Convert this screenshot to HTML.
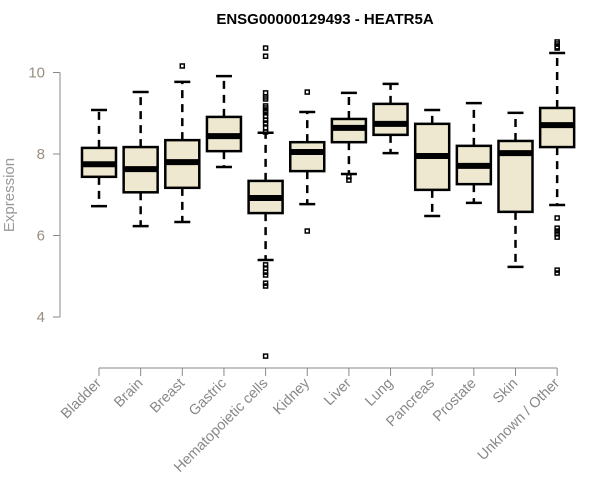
<!DOCTYPE html>
<html><head><meta charset="utf-8"><style>
html,body{margin:0;padding:0;background:#fff;}
svg{display:block;font-family:"Liberation Sans",Arial,sans-serif;}
</style></head><body>
<svg id="chart" width="600" height="500" viewBox="0 0 600 500" xmlns="http://www.w3.org/2000/svg">
<text x="325" y="24" text-anchor="middle" font-weight="bold" font-size="15" fill="#000">ENSG00000129493 - HEATR5A</text>
<text transform="translate(14,195) rotate(-90)" text-anchor="middle" font-size="15" fill="#999">Expression</text>
<g id="yaxis"></g>
<g id="xaxis"></g>
<g id="boxes"></g>
</svg>
<script>
const categories = ["Bladder","Brain","Breast","Gastric","Hematopoietic cells","Kidney","Liver","Lung","Pancreas","Prostate","Skin","Unknown / Other"];
const whiskerLow = [6.72,6.23,6.33,7.68,5.40,6.77,7.51,8.02,6.48,6.80,5.23,6.75];
const q1 = [7.44,7.06,7.17,8.07,6.55,7.58,8.29,8.47,7.12,7.26,6.58,8.17];
const medians = [7.75,7.63,7.80,8.44,6.92,8.05,8.64,8.74,7.95,7.71,8.02,8.71];
const q3 = [8.15,8.17,8.34,8.91,7.34,8.29,8.86,9.23,8.74,8.20,8.32,9.13];
const whiskerHigh = [9.08,9.52,9.77,9.91,8.52,9.03,9.50,9.72,9.08,9.25,9.01,10.48];
const outliers = [[],[],[10.16],[],[10.60,10.40,9.50,9.40,9.35,9.18,9.13,9.06,9.01,8.93,8.83,8.76,8.64,8.54,5.28,5.20,5.10,5.03,4.83,4.76,3.04],[9.52,6.11],[7.44,7.36],[],[],[],[],[10.75,10.70,10.63,10.60,6.43,6.18,6.11,6.04,5.96,5.15,5.08]];
const yTicks = [4,6,8,10];

const NS="http://www.w3.org/2000/svg";
function y(v){return 154-(v-8)*40.75;}
function x(i){return 99+i*41.65;}
function mk(tag,attrs,parent){const e=document.createElementNS(NS,tag);for(const k in attrs)e.setAttribute(k,attrs[k]);parent.appendChild(e);return e;}
const ya=document.getElementById('yaxis'),xa=document.getElementById('xaxis'),bx=document.getElementById('boxes');
const yl=mk('line',{x1:60,x2:60,y1:y(10),y2:y(4),stroke:'#888','stroke-width':1},ya);


yTicks.forEach(t=>{
  const tk=mk('line',{x1:53,x2:60,y1:y(t),y2:y(t),stroke:'#888'},ya);
  
  
  const tx=mk('text',{x:45,y:y(t)+5,'text-anchor':'end','font-size':15,fill:'#9a8e80'},ya);
  tx.textContent=t;
  
  
});
const xl=mk('line',{x1:x(0),x2:x(categories.length-1),y1:368,y2:368,stroke:'#888'},xa);


categories.forEach((c,i)=>{
  const tk=mk('line',{x1:x(i),x2:x(i),y1:368,y2:376,stroke:'#888'},xa);
  
  
  const tx=mk('text',{transform:`translate(${x(i)+3},${384}) rotate(-45)`,'text-anchor':'end','font-size':14.5,fill:'#888'},xa);
  tx.textContent=c;
  
  
});
categories.forEach((c,i)=>{
  const g=mk('g',{},bx);
  
  
  const cx=x(i),hw=17;
  mk('line',{x1:cx,x2:cx,y1:y(q3[i]),y2:y(whiskerHigh[i]),stroke:'#000','stroke-width':2.5,'stroke-dasharray':'8,6'},g);
  mk('line',{x1:cx,x2:cx,y1:y(q1[i]),y2:y(whiskerLow[i]),stroke:'#000','stroke-width':2.5,'stroke-dasharray':'8,6'},g);
  mk('line',{x1:cx-8,x2:cx+8,y1:y(whiskerHigh[i]),y2:y(whiskerHigh[i]),stroke:'#000','stroke-width':2.5},g);
  mk('line',{x1:cx-8,x2:cx+8,y1:y(whiskerLow[i]),y2:y(whiskerLow[i]),stroke:'#000','stroke-width':2.5},g);
  mk('rect',{x:cx-hw,y:y(q3[i]),width:2*hw,height:y(q1[i])-y(q3[i]),fill:'#ede8cf',stroke:'#000','stroke-width':2.5},g);
  mk('line',{x1:cx-hw,x2:cx+hw,y1:y(medians[i]),y2:y(medians[i]),stroke:'#000','stroke-width':6},g);
  outliers[i].forEach(v=>{
    const o=mk('rect',{x:cx-2,y:y(v)-2,width:4,height:4,fill:'none',stroke:'#000','stroke-width':1.5},g);
    
    
  });
});
</script>
</body></html>
